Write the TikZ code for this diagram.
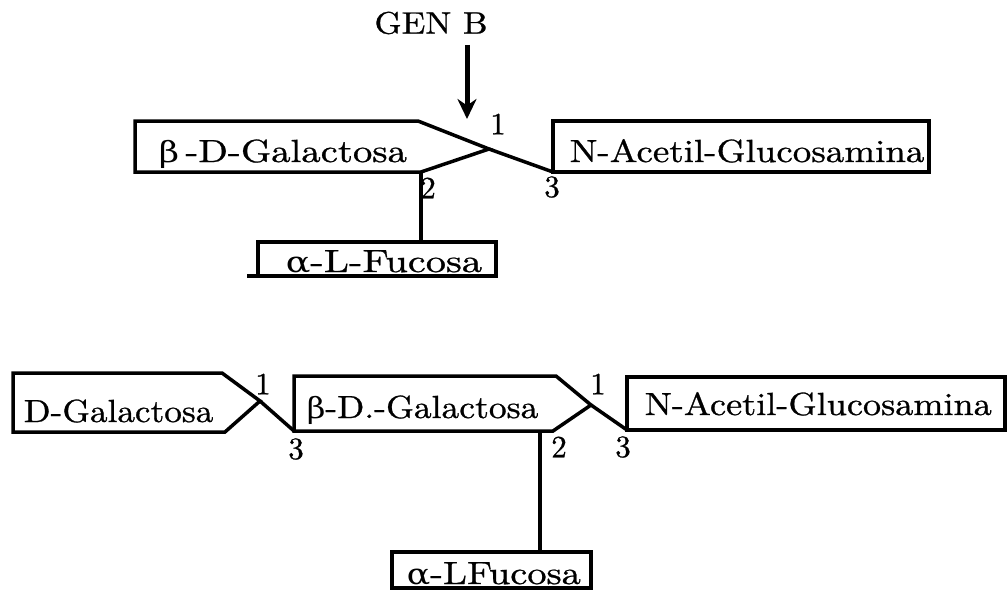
\documentclass[tikz,border=0pt]{standalone}
\usepackage{amsmath, amssymb}
\usepackage{graphicx}
\usepackage{fontspec}
\newfontfamily\greekfont{DejaVu Serif}
\newfontfamily\typefont{lmroman10-regular}[Extension=.otf, FakeBold=0.8]
\usetikzlibrary{arrows.meta}
\usetikzlibrary{calc}

\newcommand{\wide}[2][1.2]{\scalebox{#1}[1]{#2}}
\newcommand{\gk}[1]{{\greekfont\fontsize{29}{31}\selectfont #1}}

\begin{document}
\begin{tikzpicture}[x=1pt, y=-1pt, line width=3.5pt, line join=miter,
    every node/.style={inner sep=0pt},
    sugar/.style={anchor=base west, font=\typefont\fontsize{32}{34}\selectfont},
    bondnum/.style={font=\typefont\fontsize{31}{33}\selectfont}]

        \useasboundingbox (0,0) rectangle (1008,591);

        % upper chain
        \node[font=\typefont\fontsize{31}{33}\selectfont] (genb) at (431, 23) {\scalebox{1.12}[1]{GEN B}};
        \coordinate (arrS) at (467, 45);
        \coordinate (arrE) at (467, 119);
        \draw[line width=5pt, -{Stealth[length=20pt, width=19pt]}] (arrS) -- (arrE);

        \coordinate (gAtl) at (135, 121);
        \coordinate (gAtr) at (418, 121);
        \coordinate (gAtip) at (489, 149);
        \coordinate (gAbr) at (421, 172);
        \coordinate (gAbl) at (135, 172);
        \coordinate (nAbl) at (553, 172);
        \coordinate (nAtr) at (929, 121);
        \coordinate (fAtop) at (421, 242);
        \coordinate (fAtl) at (258, 242);
        \coordinate (fAbr) at (496, 276);

        \node[sugar] (galA) at (157, 162) {\wide[1.21]{\gk{β}\,-D-Galactosa}};
        \node[sugar] (nacA) at (568, 162) {\wide[1.155]{N-Acetil-Glucosamina}};
        \node[sugar] (fucA) at (284, 272) {\wide[1.26]{\gk{α}-L-Fucosa}};

        \draw (gAbr) -- (gAbl) -- (gAtl) -- (gAtr) -- (gAtip) -- cycle;
        \draw (gAtip) -- (nAbl);
        \draw (nAbl) rectangle (nAtr);
        \draw (gAbr) -- (fAtop);
        \draw (fAtl) rectangle (fAbr);
        \draw (fAtl |- fAbr) -- ++(-11, 0); % stray tail

        % lower chain
        \coordinate (gDtl) at (13, 373);
        \coordinate (gDtr) at (222, 373);
        \coordinate (gDtip) at (260, 401);
        \coordinate (gDbr) at (225, 432);
        \coordinate (gDbl) at (13, 432);

        \coordinate (gBtl) at (294, 376);
        \coordinate (gBtr) at (556, 376);
        \coordinate (gBtip) at (591, 405);
        \coordinate (gBbr) at (553, 431);
        \coordinate (gBbl) at (294, 431);
        \coordinate (gBfoot) at (540, 431);

        \coordinate (nBbl) at (627, 430);
        \coordinate (nBtr) at (1005, 377);
        \coordinate (fBtop) at (540, 552);
        \coordinate (fBtl) at (392, 552);
        \coordinate (fBbr) at (591, 588);

        \node[sugar] (galD) at (22, 422) {\wide[1.10]{D-Galactosa}};
        \node[sugar] (galB) at (305, 418) {\wide[1.11]{\gk{β}-D.-Galactosa}};
        \node[sugar] (nacB) at (643, 415) {\wide[1.13]{N-Acetil-Glucosamina}};
        \node[sugar] (fucB) at (405, 584) {\wide[1.20]{\gk{α}-LFucosa}};

        \draw (gDbr) -- (gDbl) -- (gDtl) -- (gDtr) -- (gDtip) -- cycle;
        \draw (gDtip) -- (gBbl);
        \draw (gBbr) -- (gBbl) -- (gBtl) -- (gBtr) -- (gBtip) -- cycle;
        \draw (gBtip) -- (nBbl);
        \draw (nBbl) rectangle (nBtr);
        \draw (gBfoot) -- (fBtop);
        \draw (fBtl) rectangle (fBbr);

        % bond positions
        \foreach \t/\x/\y [count=\i] in {1/498/124, 2/428/188, 3/552/187,
                                         1/263/384, 3/296/449, 1/598/384, 2/559/447, 3/623/447} {
          \node[bondnum] (bond\i) at (\x, \y) {\t};
        }

      \end{tikzpicture}
\end{document}
